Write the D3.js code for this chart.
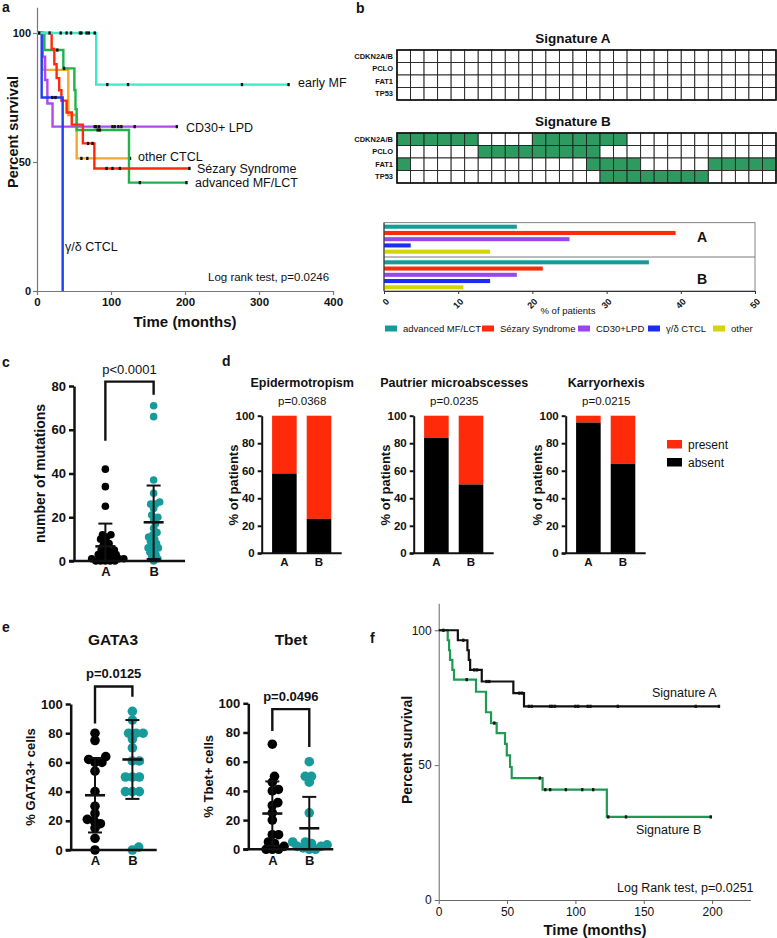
<!DOCTYPE html>
<html>
<head>
<meta charset="utf-8">
<script src="https://cdn.jsdelivr.net/npm/d3@7"></script>
<style>
body{margin:0;background:#fff;}
text{font-family:"Liberation Sans",Arial,sans-serif;}
</style>
</head>
<body>
<script>
// ---------- panel a : survival by subtype ----------
var kmGroups = ["early MF","CD30+ LPD","other CTCL","Sézary Syndrome","advanced MF/LCT","γ/δ CTCL"];
var earlyMfSteps = [[0,100],[80,80]];
var earlyMfCensor = [3,17,32,40,46,58,60,67,70,78,95,123,277,340];
var cd30Steps = [[0,100],[7.7,90.8],[11,81.8],[14,72.7],[21,63.7]];
var cd30Censor = [78,80,84,102,105,110,114,132,189];
var otherSteps = [[0,100],[7.2,85.7],[42.3,68.2],[53.6,51.4]];
var otherCensor = [60,68,125.7];
var sezarySteps = [[0,100],[19.8,93.8],[23.4,87.9],[26.5,82.5],[30,77.8],[33,73.8],[40,69.2],[47,64.5],[62,57.2],[77.5,47.5]];
var sezaryCensor = [69,75,94,102,112,206];
var advSteps = [[0,100],[10,93.4],[35.6,86.3],[50.5,77.9],[52,70.5],[53.6,62.4],[124.3,42]];
var advCensor = [27.5,36.5,82,85,139,202];
var gdSteps = [[0,100],[6.3,75],[34.7,0]];
var gdCensor = [20.7,25];

// ---------- panel b : signatures ----------
var genes = ["CDKN2A/B","PCLO","FAT1","TP53"];
var nPatients = 28;
var sigAMut = [[],[],[],[]];
var sigBMut = [
  [0,1,2,3,4,5,10,11,12,13,14,15,16],
  [6,7,8,9,10,11,12,13,14],
  [0,14,15,16,17,23,24,25,26,27],
  [15,16,17,18,19,20,21,22]
];
var subtypes = ["advanced MF/LCT","Sézary Syndrome","CD30+LPD","γ/δ CTCL","other"];
var pctSigA = [17.9,39.3,25.0,3.6,14.3];
var pctSigB = [35.7,21.4,17.9,14.3,10.7];

// ---------- panel c : mutation counts ----------
var mutA = [42,34,25,12,12,11,10,9,8,7,6,5,5,4,4,3,3,2,2,2,1,1,1,0,0,0,0,0];
var mutB = [71,66,37,31,27,26,26,24,21,20,19,17,15,13,12,11,10,9,8,7,6,6,5,4,3,2,1,0];
var mutMean = [6.7,17.7];
var mutSd = [10.4,16.8];

// ---------- panel d : histology ----------
var histoFeatures = ["Epidermotropism","Pautrier microabscesses","Karryorhexis"];
var histoP = ["p=0.0368","p=0.0235","p=0.0215"];
var absentA = [58,84,95];
var absentB = [25,50,65];

// ---------- panel e : GATA3 / Tbet ----------
var gataA = [80,75,64,62,60,60,54,40,30,25,21,20,18,15,8,0];
var gataB = [95,89,80,80,80,76,70,61,61,50,50,50,40,40,40,2,0];
var gataMean = [37.5,62];
var gataSd = [25.5,27];
var tbetA = [72,50,46,41,40,32,30,25,20,10,10,5,4,2,0,0,0];
var tbetB = [60,50,50,46,25,5,5,4,3,2,2,1,0,0];
var tbetMean = [24.5,14.4];
var tbetSd = [22,21.5];

// ---------- panel f : survival by signature ----------
var sigASteps = [[0,100],[14,96.3],[21,92.6],[22,89],[23,85.3],[31.5,81],[54.6,76.7],[62.4,71.8]];
var sigACensor = [3.4,18,26,28,35,37,59,61,66,68,81.5,83,85,100,102,109,111,131,188,205];
var sigBSteps = [[0,100],[6.6,96.3],[7.6,92.6],[8.3,89],[10,85.3],[11.2,81.7],[27.3,77.2],[34.6,69.6],[38.3,65.6],[42.4,61.9],[48.5,57.9],[49.8,53.6],[52.2,49.3],[53.4,45.2],[76,40.9],[123,30.8]];
var sigBCensor = [20.5,40.7,74,78,81.5,93,105,113,124,137,199];

var red = "#ff2a0a", teal = "#179a9a", green = "#2f9a5f";

var svg = d3.select("body").append("svg").attr("width", 777).attr("height", 938);

function addText(x, y, s, o){
    o = o || {};
    var t = svg.append("text").attr("x", x).attr("y", y).text(s)
        .attr("font-size", o.size || 12)
        .attr("font-weight", o.weight || "normal")
        .attr("text-anchor", o.anchor || "start")
        .attr("fill", o.fill || "#111");
    if(o.rotate) t.attr("transform", "rotate(" + o.rotate + "," + x + "," + y + ")");
    if(o.family) t.attr("font-family", o.family);
    return t;
}

function styleAxis(g, color, width, size, weight){
    g.attr("font-family", null);
    g.select(".domain").attr("stroke", color).attr("stroke-width", width);
    g.selectAll(".tick line").attr("stroke", color).attr("stroke-width", width);
    g.selectAll(".tick text").attr("fill", "#111").attr("font-size", size).attr("font-weight", weight);
}

function survAt(steps, t){
    var s = steps[0][1];
    steps.forEach(function(p){ if(p[0] <= t) s = p[1]; });
    return s;
}

function drawKM(x, y, steps, censor, color, width){
    var end = Math.max(steps[steps.length-1][0], d3.max(censor));
    var pts = steps.concat([[end, steps[steps.length-1][1]]]);
    var line = d3.line().x(function(d){ return x(d[0]); }).y(function(d){ return y(d[1]); }).curve(d3.curveStepAfter);
    svg.append("path").attr("d", line(pts)).attr("fill", "none")
        .attr("stroke", color).attr("stroke-width", width);
    svg.append("g").selectAll("rect").data(censor).join("rect")
        .attr("x", function(t){ return x(t) - 1.2; })
        .attr("y", function(t){ return y(survAt(steps, t)) - 1.6; })
        .attr("width", 2.4).attr("height", 3.2).attr("fill", "#111");
}

// ================= panel a =================
(function(){
    var x = d3.scaleLinear().domain([0,400]).range([37,333]);
    var y = d3.scaleLinear().domain([0,110]).range([291,7.2]);
    var gy = svg.append("g").attr("transform","translate(37,0)")
        .call(d3.axisLeft(y).tickValues([0,50,100]).tickSize(4).tickPadding(2).tickSizeOuter(0));
    styleAxis(gy, "#777", 1.2, 11, "bold");
    var gx = svg.append("g").attr("transform","translate(0,291)")
        .call(d3.axisBottom(x).tickValues([0,100,200,300,400]).tickSize(4).tickSizeOuter(0));
    styleAxis(gx, "#777", 1.2, 11.5, "bold");

    var series = [
        [otherSteps, otherCensor, "#f0a830"],
        [cd30Steps, cd30Censor, "#b048f0"],
        [advSteps, advCensor, "#22b14c"],
        [sezarySteps, sezaryCensor, red],
        [gdSteps, gdCensor, "#1f3ff0"],
        [earlyMfSteps, earlyMfCensor, "#40e8c8"]
    ];
    series.forEach(function(s){ drawKM(x, y, s[0], s[1], s[2], 2.4); });

    addText(298, 87, kmGroups[0], {size:12.5});
    addText(186, 132, kmGroups[1], {size:12.5});
    addText(138, 161, kmGroups[2], {size:12.5});
    addText(197, 173, kmGroups[3], {size:12.5});
    addText(195, 187, kmGroups[4], {size:12.5});
    addText(65, 251, kmGroups[5], {size:12.5});
    addText(208, 281, "Log rank test, p=0.0246", {size:11.5});
    addText(18, 132, "Percent survival", {size:14.5, weight:"bold", anchor:"middle", rotate:-90});
    addText(185, 327, "Time (months)", {size:15, weight:"bold", anchor:"middle"});
    addText(2, 12, "a", {size:14, weight:"bold"});
})();

// ================= panel b =================
(function(){
    addText(356, 13, "b", {size:14, weight:"bold"});
    var cols = d3.scaleBand().domain(d3.range(nPatients)).range([397,776]);
    function grid(top, muts, title){
        addText(573, top - 7, title, {size:13.5, weight:"bold", anchor:"middle", family:"'Open Sans',sans-serif"});
        var rows = d3.scaleBand().domain(genes).range([top, top + 50]);
        var cells = [];
        genes.forEach(function(gname, gi){
            d3.range(nPatients).forEach(function(c){
                cells.push({gene:gname, col:c, hit: muts[gi].indexOf(c) >= 0});
            });
        });
        svg.append("g").selectAll("rect").data(cells).join("rect")
            .attr("x", function(d){ return cols(d.col); })
            .attr("y", function(d){ return rows(d.gene); })
            .attr("width", cols.bandwidth()).attr("height", rows.bandwidth())
            .attr("fill", function(d){ return d.hit ? green : "#fff"; })
            .attr("stroke", "#222").attr("stroke-width", 0.9);
        svg.append("rect").attr("x", 397).attr("y", top).attr("width", 379).attr("height", 50)
            .attr("fill", "none").attr("stroke", "#111").attr("stroke-width", 1.6);
        genes.forEach(function(gname){
            addText(393, rows(gname) + rows.bandwidth()/2 + 2.6, gname, {size:7.5, weight:"bold", anchor:"end"});
        });
    }
    grid(50, sigAMut, "Signature A");
    grid(133, sigBMut, "Signature B");

    // distribution bars
    var colors = [teal, red, "#9b45f0", "#1a2cf5", "#d4d40a"];
    var x = d3.scaleLinear().domain([0,50]).range([384,755]);
    var bandA = d3.scaleBand().domain(subtypes).range([222.5,255.9]).padding(0.35);
    var bandB = d3.scaleBand().domain(subtypes).range([258.1,291.5]).padding(0.35);
    svg.append("rect").attr("x", 384).attr("y", 222.7).attr("width", 371).attr("height", 68.3)
        .attr("fill", "none").attr("stroke", "#666").attr("stroke-width", 0.8);
    svg.append("line").attr("x1", 384).attr("x2", 755).attr("y1", 257).attr("y2", 257)
        .attr("stroke", "#555").attr("stroke-width", 0.8);
    [[pctSigA, bandA],[pctSigB, bandB]].forEach(function(p){
        svg.append("g").selectAll("rect").data(p[0]).join("rect")
            .attr("x", x(0))
            .attr("y", function(d, i){ return p[1](subtypes[i]); })
            .attr("width", function(d){ return x(d) - x(0); })
            .attr("height", p[1].bandwidth())
            .attr("fill", function(d, i){ return colors[i]; });
    });
    addText(702, 242, "A", {size:14, weight:"bold", anchor:"middle"});
    addText(702, 284, "B", {size:14, weight:"bold", anchor:"middle"});
    var gx = svg.append("g").attr("transform","translate(0,291)")
        .call(d3.axisBottom(x).tickValues([0,10,20,30,40,50]).tickSize(3).tickSizeOuter(0));
    styleAxis(gx, "#333", 1, 9, "bold");
    gx.selectAll(".tick text").attr("x", 0).attr("y", 0).attr("dy", "0.35em")
        .attr("text-anchor", "end").attr("transform", "translate(3,9) rotate(-45)");
    svg.append("line").attr("x1", 384).attr("x2", 384).attr("y1", 222.7).attr("y2", 291)
        .attr("stroke", "#333").attr("stroke-width", 1);
    addText(568, 314, "% of patients", {size:9.5, anchor:"middle"});

    // legend
    var lx = [385, 482, 578, 648, 713];
    subtypes.forEach(function(s, i){
        svg.append("rect").attr("x", lx[i]).attr("y", 325.5).attr("width", 12).attr("height", 6).attr("fill", colors[i]);
        addText(lx[i] + 18, 332, s, {size:9.5});
    });
})();

// beeswarm placement (deterministic); d = minimum centre distance
function swarm(values, y, d){
    var pts = values.map(function(v){ return {v:v, y:y(v), dx:0}; })
        .sort(function(a, b){ return b.y - a.y; });
    var placed = [];
    pts.forEach(function(p){
        var cands = [0];
        placed.forEach(function(q){
            var dy = Math.abs(q.y - p.y);
            if(dy < d){ var w = Math.sqrt(d*d - dy*dy); cands.push(q.dx + w, q.dx - w); }
        });
        cands.sort(function(a, b){ return Math.abs(a) - Math.abs(b) || b - a; });
        for(var k = 0; k < cands.length; k++){
            var c = cands[k];
            var ok = placed.every(function(q){ return (q.dx - c)*(q.dx - c) + (q.y - p.y)*(q.y - p.y) >= d*d - 0.01; });
            if(ok){ p.dx = c; break; }
        }
        placed.push(p);
    });
    return pts;
}

function dotPanel(o){
    var y = d3.scaleLinear().domain([0, o.max]).range([o.bottom, o.top]);
    var x = d3.scalePoint().domain(["A","B"]).range([o.left, o.right]).padding(0.65);
    [o.a, o.b].forEach(function(vals, i){
        var cx = x(i ? "B" : "A");
        svg.append("g").selectAll("circle").data(swarm(vals, y, o.r*o.pack)).join("circle")
            .attr("cx", function(d){ return cx + d.dx; })
            .attr("cy", function(d){ return d.y; })
            .attr("r", o.r)
            .attr("fill", i ? teal : "#000");
        var m = o.mean[i], s = o.sd[i];
        var lo = y(Math.max(0, m - s)), hi = y(m + s);
        svg.append("line").attr("x1", cx).attr("x2", cx).attr("y1", lo).attr("y2", hi)
            .attr("stroke", "#111").attr("stroke-width", 2);
        [hi].concat(m - s > 0 ? [lo] : []).forEach(function(yy){
            svg.append("line").attr("x1", cx - 7).attr("x2", cx + 7).attr("y1", yy).attr("y2", yy)
                .attr("stroke", "#111").attr("stroke-width", 2);
        });
        svg.append("line").attr("x1", cx - 10).attr("x2", cx + 10).attr("y1", y(m)).attr("y2", y(m))
            .attr("stroke", "#111").attr("stroke-width", 2.6);
    });
    var gy = svg.append("g").attr("transform", "translate(" + o.left + ",0)")
        .call(d3.axisLeft(y).tickValues(d3.range(0, o.max + 1, 20)).tickSize(5).tickSizeOuter(0));
    styleAxis(gy, "#111", 2.5, 13, "bold");
    var gx = svg.append("g").attr("transform", "translate(0," + o.bottom + ")")
        .call(d3.axisBottom(x).tickSize(0).tickSizeOuter(0).tickPadding(6));
    styleAxis(gx, "#111", 2.5, 13, "bold");
    gx.select(".domain").attr("d", "M" + (o.left - 5) + ",0H" + o.right);
    var br = o.bracket;
    svg.append("path")
        .attr("d", "M" + x("A") + "," + y(br[0]) + "V" + y(br[1]) + "H" + x("B") + "V" + y(br[2]))
        .attr("fill", "none").attr("stroke", "#111").attr("stroke-width", 2.4);
    addText((x("A") + x("B"))/2, y(br[1]) - 8, o.p, {size:13, weight:o.pWeight, anchor:"middle"});
    addText(o.labelX, (o.top + o.bottom)/2, o.label, {size:o.labelSize, weight:"bold", anchor:"middle", rotate:-90});
}

// ================= panel c =================
addText(2, 367, "c", {size:14, weight:"bold"});
dotPanel({a:mutA, b:mutB, mean:mutMean, sd:mutSd, max:80, top:386, bottom:561, left:74, right:185,
    r:3.8, pack:1.25, bracket:[55,82,76], p:"p<0.0001", pWeight:"normal",
    label:"number of mutations", labelX:45, labelSize:14});

// ================= panel d =================
(function(){
    addText(222, 366, "d", {size:14, weight:"bold"});
    var y = d3.scaleLinear().domain([0,100]).range([553.3,415.7]);
    histoFeatures.forEach(function(f, i){
        var ox = 261.7 + i*152;
        var x = d3.scaleBand().domain(["A","B"]).range([ox, ox + 80]).paddingInner(0.29).paddingOuter(0.3);
        var vals = [absentA[i], absentB[i]];
        ["A","B"].forEach(function(k, j){
            svg.append("rect").attr("x", x(k)).attr("y", y(100)).attr("width", x.bandwidth())
                .attr("height", y(vals[j]) - y(100)).attr("fill", red);
            svg.append("rect").attr("x", x(k)).attr("y", y(vals[j])).attr("width", x.bandwidth())
                .attr("height", y(0) - y(vals[j])).attr("fill", "#000");
        });
        var gy = svg.append("g").attr("transform", "translate(" + ox + ",0)")
            .call(d3.axisLeft(y).tickValues([0,20,40,60,80,100]).tickSize(4).tickSizeOuter(0));
        styleAxis(gy, "#111", 2, 11.5, "bold");
        var gx = svg.append("g").attr("transform", "translate(0,553.3)")
            .call(d3.axisBottom(x).tickSize(0).tickSizeOuter(0).tickPadding(5));
        styleAxis(gx, "#111", 2, 11.5, "bold");
        gx.select(".domain").attr("d", "M" + (ox - 4) + ",0H" + (ox + 80));
        addText(ox + 40.5, 387, f, {size:12.5, weight:"bold", anchor:"middle"});
        addText(ox + 40.5, 405, histoP[i], {size:11.5, anchor:"middle"});
        addText(ox - 24, 485, "% of patients", {size:13, weight:"bold", anchor:"middle", rotate:-90});
    });
    svg.append("rect").attr("x", 667).attr("y", 440).attr("width", 15).attr("height", 8.5).attr("fill", red);
    svg.append("rect").attr("x", 667).attr("y", 458).attr("width", 15).attr("height", 8.5).attr("fill", "#000");
    addText(688, 448.5, "present", {size:12});
    addText(688, 466.5, "absent", {size:12});
})();

// ================= panel e =================
addText(2, 632, "e", {size:14, weight:"bold"});
addText(113, 645, "GATA3", {size:15.5, weight:"bold", anchor:"middle"});
addText(291, 645, "Tbet", {size:15.5, weight:"bold", anchor:"middle"});
dotPanel({a:gataA, b:gataB, mean:gataMean, sd:gataSd, max:100, top:704, bottom:850, left:70.7, right:156.7,
    r:4.8, pack:1.45, bracket:[86.7,112,105], p:"p=0.0125", pWeight:"bold",
    label:"% GATA3+ cells", labelX:35, labelSize:13});
dotPanel({a:tbetA, b:tbetB, mean:tbetMean, sd:tbetSd, max:100, top:703.3, bottom:849.3, left:248.3, right:333.3,
    r:4.8, pack:1.3, bracket:[81,96,70], p:"p=0.0496", pWeight:"bold",
    label:"% Tbet+ cells", labelX:213, labelSize:13});

// ================= panel f =================
(function(){
    addText(370, 643, "f", {size:14, weight:"bold"});
    var x = d3.scaleLinear().domain([0,228]).range([438.7,750.4]);
    var y = d3.scaleLinear().domain([0,110]).range([900,603.3]);
    var gy = svg.append("g").attr("transform","translate(438.7,0)")
        .call(d3.axisLeft(y).tickValues([0,50,100]).tickSize(4).tickSizeOuter(0));
    styleAxis(gy, "#666", 1, 12, "normal");
    var gx = svg.append("g").attr("transform","translate(0,900)")
        .call(d3.axisBottom(x).tickValues([0,50,100,150,200]).tickSize(4).tickSizeOuter(0));
    styleAxis(gx, "#666", 1, 12, "normal");
    drawKM(x, y, sigBSteps, sigBCensor, "#1f9a55", 2.2);
    drawKM(x, y, sigASteps, sigACensor, "#111", 2.2);
    addText(652, 697, "Signature A", {size:12.5});
    addText(636, 834, "Signature B", {size:12.5});
    addText(617, 892, "Log Rank test, p=0.0251", {size:12.5});
    addText(412, 750, "Percent survival", {size:14, weight:"bold", anchor:"middle", rotate:-90});
    addText(595, 935, "Time (months)", {size:15, weight:"bold", anchor:"middle"});
})();
</script>
</body>
</html>
